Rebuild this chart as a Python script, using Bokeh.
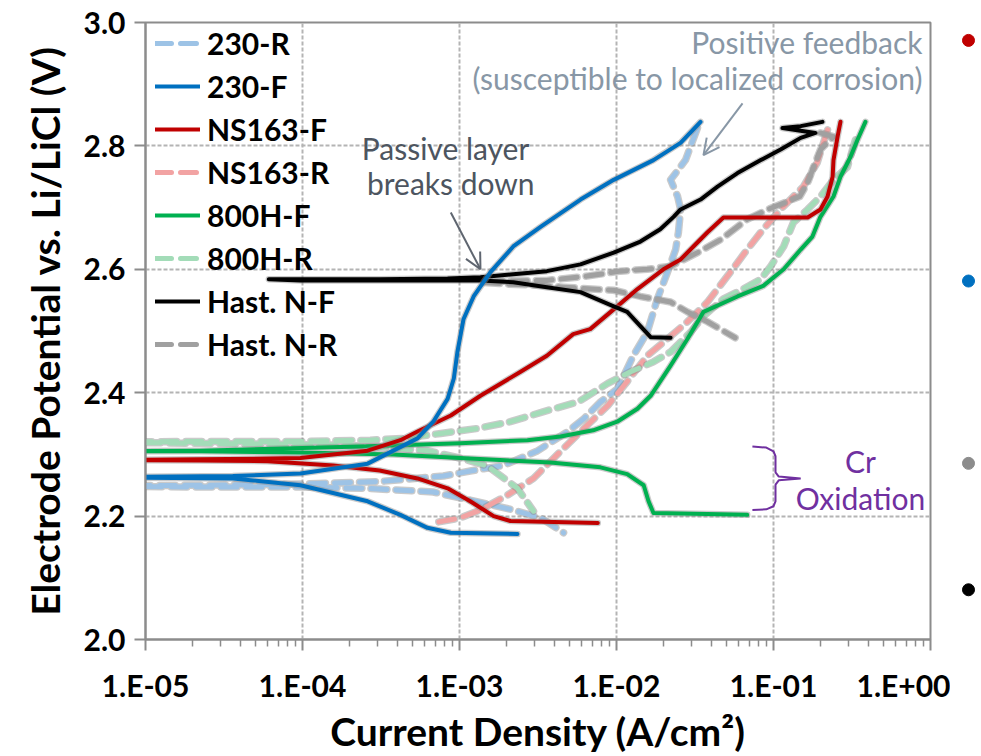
from bokeh.plotting import figure
from bokeh.layouts import row
from bokeh.models import (Range1d, Legend, LegendItem, Label, Arrow, OpenHead,
                          CustomJSTickFormatter, PrintfTickFormatter, FixedTicker)
from bokeh.embed import file_html
from bokeh.resources import INLINE

# ---------------- data (current density A/cm2, potential V) ----------------
i_230F = [2.34e-3, 8.8e-4, 6.25e-4, 4.2e-4, 2.6e-4, 9.7e-5, 3.6e-5, 5e-6,
          3.6e-5, 9.7e-5, 2.6e-4, 5.4e-4, 6.8e-4, 8.4e-4, 9.2e-4, 9.7e-4, 1.06e-3,
          1.23e-3, 1.57e-3, 2.2e-3, 3.3e-3, 5.9e-3, 9.6e-3, 1.72e-2, 2.56e-2, 3.43e-2]
v_230F = [2.171, 2.173, 2.181, 2.202, 2.224, 2.250, 2.261, 2.263,
          2.265, 2.269, 2.285, 2.326, 2.353, 2.390, 2.423, 2.466, 2.519,
          2.556, 2.595, 2.637, 2.669, 2.713, 2.745, 2.777, 2.805, 2.839]

i_230R = [3.28e-2, 2.75e-2, 2.21e-2, 2.45e-2, 2.56e-2, 2.48e-2, 2.38e-2, 2.11e-2,
          1.82e-2, 1.57e-2, 1.28e-2, 1.11e-2, 1.01e-2, 7.9e-3, 6.2e-3, 4.9e-3,
          3.1e-3, 1.9e-3, 1.17e-3, 7.9e-4, 3.1e-4, 9.7e-5, 2.2e-5, 5e-6,
          2.2e-5, 9.7e-5, 2.6e-4, 6.8e-4, 1.17e-3, 2.11e-3, 3.3e-3, 4.6e-3]
v_230R = [2.829, 2.777, 2.745, 2.718, 2.697, 2.660, 2.632, 2.595,
          2.552, 2.498, 2.460, 2.427, 2.406, 2.385, 2.358, 2.337,
          2.305, 2.282, 2.273, 2.265, 2.256, 2.252, 2.250, 2.249,
          2.247, 2.247, 2.245, 2.239, 2.226, 2.211, 2.197, 2.173]

i_NS163F = [7.6e-3, 2.11e-3, 1.65e-3, 1.17e-3, 8.4e-4, 5.4e-4, 3.1e-4, 1.57e-4, 6.0e-5,
            2.2e-5, 5e-6, 2.2e-5, 9.7e-5, 2.6e-4, 4.2e-4, 5.4e-4, 8.8e-4, 1.36e-3,
            2.45e-3, 3.6e-3, 5.3e-3, 6.8e-3, 9.6e-3, 1.36e-2, 1.99e-2, 2.56e-2,
            3.09e-2, 3.8e-2, 4.8e-2, 0.165, 0.199, 0.221, 0.238, 0.241, 0.256, 0.267]
v_NS163F = [2.189, 2.192, 2.200, 2.224, 2.245, 2.261, 2.274, 2.282, 2.289,
            2.290, 2.291, 2.292, 2.294, 2.306, 2.323, 2.337, 2.363, 2.395,
            2.434, 2.460, 2.495, 2.503, 2.535, 2.568, 2.600, 2.616,
            2.637, 2.660, 2.684, 2.684, 2.697, 2.718, 2.750, 2.777, 2.815, 2.839]

i_NS163R = [0.221, 0.208, 0.190, 0.155, 0.116, 8.6e-2, 6.8e-2, 5.3e-2, 3.8e-2,
            2.83e-2, 2.11e-2, 1.57e-2, 1.17e-2, 8.8e-3, 6.5e-3, 4.4e-3, 2.96e-3,
            2.02e-3, 1.36e-3, 1.01e-3, 6.8e-4]
v_NS163R = [2.826, 2.805, 2.773, 2.734, 2.702, 2.665, 2.632, 2.595, 2.547,
            2.515, 2.487, 2.460, 2.418, 2.379, 2.347, 2.305, 2.261,
            2.234, 2.210, 2.197, 2.189]

i_800HF = [6.8e-2, 1.72e-2, 1.6e-2, 1.49e-2, 1.17e-2, 7.9e-3, 3.8e-3, 1.01e-3, 3.8e-4,
           9.7e-5, 2.2e-5, 5e-6, 2.2e-5, 2.34e-4, 1.01e-3, 2.71e-3, 4.4e-3, 7.1e-3,
           1.01e-2, 1.36e-2, 1.65e-2, 2.21e-2, 2.83e-2, 3.58e-2, 5.9e-2, 8.6e-2,
           0.116, 0.149, 0.177, 0.199, 0.241, 0.267, 0.309, 0.343, 0.385]
v_800HF = [2.202, 2.205, 2.224, 2.250, 2.268, 2.279, 2.287, 2.294, 2.300,
           2.303, 2.305, 2.305, 2.306, 2.313, 2.318, 2.323, 2.329, 2.339,
           2.353, 2.374, 2.395, 2.444, 2.487, 2.531, 2.556, 2.573,
           2.600, 2.632, 2.653, 2.685, 2.718, 2.750, 2.782, 2.810, 2.839]

i_800HR = [0.333, 0.322, 0.296, 0.241, 0.199, 0.165, 0.134, 0.116, 9.6e-2, 8.3e-2,
           6.4e-2, 4.8e-2, 3.58e-2, 2.96e-2, 2.21e-2, 1.72e-2, 1.23e-2, 8.8e-3,
           5.7e-3, 3.4e-3, 2.11e-3, 1.30e-3, 7.6e-4, 4.4e-4, 2.7e-4, 9.7e-5, 2.2e-5,
           5e-6, 2.2e-5, 2.0e-4, 6.25e-4, 1.01e-3, 1.51e-3, 2.34e-3, 2.96e-3]
v_800HR = [2.810, 2.798, 2.766, 2.745, 2.718, 2.697, 2.676, 2.637, 2.605, 2.584,
           2.568, 2.552, 2.524, 2.498, 2.466, 2.450, 2.434, 2.415,
           2.385, 2.369, 2.353, 2.342, 2.334, 2.326, 2.323, 2.321, 2.321,
           2.320, 2.318, 2.315, 2.306, 2.294, 2.281, 2.245, 2.208]

i_HastF = [2.21e-2, 1.65e-2, 1.42e-2, 1.17e-2, 9.6e-3, 5.9e-3, 3.6e-3, 2.2e-3, 1.36e-3,
           8.4e-4, 3.1e-4, 9.7e-5, 6.1e-5, 9.7e-5, 3.1e-4, 8.4e-4, 1.36e-3, 2.2e-3,
           3.6e-3, 5.9e-3, 9.6e-3, 1.42e-2, 1.9e-2, 2.31e-2, 2.56e-2, 3.43e-2,
           4.4e-2, 5.9e-2, 8.3e-2, 0.111, 0.149, 0.185, 0.114, 0.149, 0.205]
v_HastF = [2.489, 2.490, 2.508, 2.531, 2.540, 2.563, 2.571, 2.579, 2.582,
           2.582, 2.582, 2.582, 2.584, 2.584, 2.584, 2.585, 2.587, 2.592,
           2.597, 2.608, 2.627, 2.645, 2.665, 2.685, 2.697, 2.713,
           2.734, 2.756, 2.777, 2.794, 2.813, 2.821, 2.829, 2.832, 2.839]

i_HastR = [0.199, 0.241, 0.199, 0.180, 0.165, 0.147, 9.2e-2, 6.8e-2, 4.6e-2, 3.28e-2,
           2.21e-2, 1.57e-2, 1.06e-2, 6.5e-3, 3.6e-3, 2.02e-3, 1.36e-3, 2.02e-3,
           3.3e-3, 4.6e-3, 9.6e-3, 1.42e-2, 2.21e-2, 2.83e-2, 3.8e-2, 5.7e-2]
v_HastR = [2.821, 2.815, 2.794, 2.766, 2.740, 2.718, 2.697, 2.681, 2.648, 2.627,
           2.605, 2.600, 2.597, 2.589, 2.582, 2.581, 2.579, 2.576,
           2.574, 2.571, 2.566, 2.556, 2.547, 2.531, 2.515, 2.489]

x_ticks = [1e-5, 1e-4, 1e-3, 1e-2, 1e-1, 1.0]
y_ticks = [2.0, 2.2, 2.4, 2.6, 2.8, 3.0]

# annotation anchor points (data coordinates)
brace_i = [7.34e-2, 9.0e-2, 0.100, 0.103, 0.103, 0.108, 0.149, 0.108, 0.103, 0.103, 0.100, 9.0e-2, 7.34e-2]
brace_v = [2.313, 2.311, 2.305, 2.297, 2.271, 2.264, 2.261, 2.258, 2.251, 2.224, 2.216, 2.211, 2.210]

# slide bullets beside the chart
bullet_v = [2.971, 2.581, 2.2855, 2.0806]
bullet_c = ["#c00000", "#0070c0", "#8c8c8c", "#000000"]

FONT = "Lato"

p = figure(width=950, height=756, x_axis_type="log",
           x_range=Range1d(1e-5, 1.0), y_range=Range1d(2.0, 3.0),
           output_backend="svg", toolbar_location=None,
           min_border_left=145, min_border_right=20,
           min_border_top=22, min_border_bottom=115)
p.background_fill_color = "white"
p.border_fill_color = "white"
p.outline_line_color = "#8c8c8c"
p.outline_line_width = 2

# axes
p.xaxis.ticker = FixedTicker(ticks=x_ticks,
                             minor_ticks=[m * 10.0 ** e for e in range(-5, 0) for m in range(2, 10)])
p.yaxis.ticker = FixedTicker(ticks=y_ticks)
p.xaxis.formatter = CustomJSTickFormatter(code="""
const e = Math.round(Math.log10(tick));
const s = e < 0 ? "-" : "+";
const a = Math.abs(e);
return "1.E" + s + (a < 10 ? "0" + a : "" + a);
""")
p.yaxis.formatter = PrintfTickFormatter(format="%.1f")
for ax in (p.xaxis, p.yaxis):
    ax.axis_line_color = "#8c8c8c"
    ax.axis_line_width = 2
    ax.major_tick_line_color = "#8c8c8c"
    ax.major_tick_line_width = 2
    ax.major_tick_out = 11
    ax.major_tick_in = 0
    ax.minor_tick_line_color = "#8c8c8c"
    ax.minor_tick_line_width = 1.5
    ax.minor_tick_out = 7
    ax.minor_tick_in = 0
    ax.major_label_text_font = FONT
    ax.major_label_text_font_style = "bold"
    ax.major_label_text_font_size = "30px"
    ax.major_label_text_color = "black"
    ax.axis_label_text_font = FONT
    ax.axis_label_text_font_style = "bold"
    ax.axis_label_text_font_size = "39px"
    ax.axis_label_text_color = "black"
p.yaxis.minor_tick_out = 0
p.xaxis.major_label_standoff = 16
p.yaxis.major_label_standoff = 9
p.xaxis.axis_label = "Current Density (A/cm²)"
p.yaxis.axis_label = "Electrode Potential vs. Li/LiCl (V)"
p.xaxis.axis_label_standoff = 2
p.yaxis.axis_label_standoff = 13

for g in (p.xgrid, p.ygrid):
    g.grid_line_color = "#b4b4b4"
    g.grid_line_width = 2
    g.grid_line_dash = "4 2"

series = [
    ("230-R", i_230R, v_230R, "#9dc3e6", True),
    ("NS163-R", i_NS163R, v_NS163R, "#f2a3a3", True),
    ("800H-R", i_800HR, v_800HR, "#a3dcb8", True),
    ("Hast. N-R", i_HastR, v_HastR, "#a0a0a0", True),
    ("800H-F", i_800HF, v_800HF, "#00b050", False),
    ("NS163-F", i_NS163F, v_NS163F, "#c00000", False),
    ("Hast. N-F", i_HastF, v_HastF, "#000000", False),
    ("230-F", i_230F, v_230F, "#0070c0", False),
]
rend = {}
for name, xi, yv, col, dashed in series:
    w = 5 if dashed else 4
    dash = "16 9" if dashed else "solid"
    p.line(xi, yv, line_color="#8a8a8a", line_alpha=0.45, line_width=w + 2.5,
           line_dash=dash, line_cap="round", line_join="round")
    r = p.line(xi, yv, line_color=col, line_width=w, line_dash=dash,
               line_cap="round", line_join="round")
    rend[name] = r

order = ["230-R", "230-F", "NS163-F", "NS163-R", "800H-F", "800H-R", "Hast. N-F", "Hast. N-R"]
legend = Legend(items=[LegendItem(label=n, renderers=[rend[n]]) for n in order],
                location=(10, 277), orientation="vertical")
legend.padding = 0
legend.margin = 0
legend.spacing = 7
legend.glyph_width = 45
legend.glyph_height = 30
legend.label_height = 30
legend.label_standoff = 7
legend.border_line_color = None
legend.background_fill_alpha = 0
legend.label_text_font = FONT
legend.label_text_font_style = "bold"
legend.label_text_font_size = "30px"
legend.label_text_color = "black"
p.add_layout(legend, "center")

# annotations
def lab(x, y, t, color, align="center"):
    p.add_layout(Label(x=x, y=y, text=t, text_color=color, text_font=FONT,
                       text_font_size="30px", text_align=align, text_baseline="middle"))

lab(8.15e-4, 2.797, "Passive layer", "#4d5560")
lab(8.8e-4, 2.740, "breaks down", "#4d5560")
lab(0.889, 2.968, "Positive feedback", "#8897a6", "right")
lab(0.889, 2.910, "(susceptible to localized corrosion)", "#8897a6", "right")
lab(0.358, 2.289, "Cr", "#7030a0")
lab(0.358, 2.229, "Oxidation", "#7030a0")

p.add_layout(Arrow(end=OpenHead(size=16, line_color="#5f6670", line_width=2),
                   x_start=8.8e-4, y_start=2.692, x_end=1.36e-3, y_end=2.600,
                   line_color="#5f6670", line_width=2))
p.add_layout(Arrow(end=OpenHead(size=16, line_color="#8897a6", line_width=2),
                   x_start=6.35e-2, y_start=2.869, x_end=3.58e-2, y_end=2.785,
                   line_color="#8897a6", line_width=2))
p.line(brace_i, brace_v, line_color="#7030a0", line_width=2)

# narrow strip at right for the slide bullets, sharing the potential axis
q = figure(width=31, height=756, x_range=Range1d(0, 31), y_range=p.y_range,
           output_backend="svg", toolbar_location=None,
           min_border_left=0, min_border_right=0,
           min_border_top=22, min_border_bottom=115)
q.axis.visible = False
q.grid.visible = False
q.outline_line_color = None
q.background_fill_color = "white"
q.border_fill_color = "white"
q.scatter([18] * len(bullet_v), bullet_v, size=12, color=bullet_c)

layout = row(p, q, spacing=0)
open("out.html", "w").write(file_html(layout, INLINE))
